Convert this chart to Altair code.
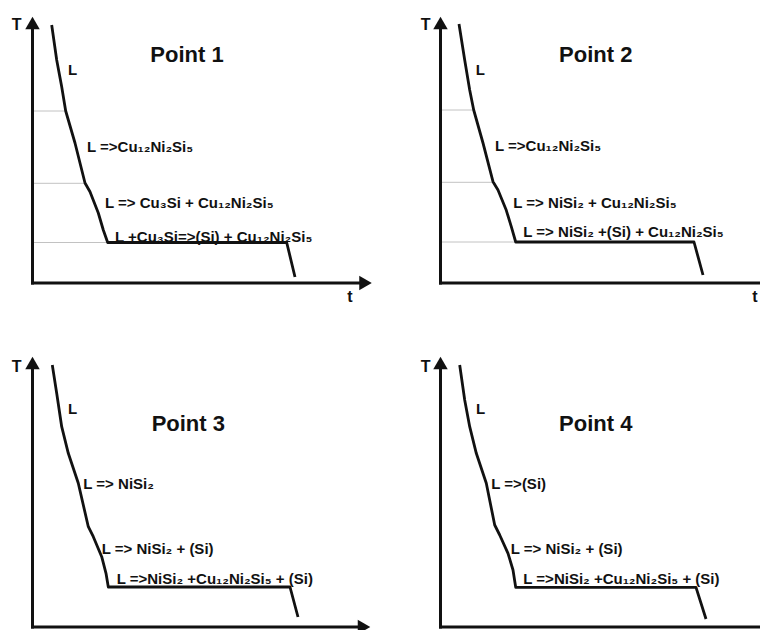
import altair as alt
import pandas as pd

FONT = "Liberation Sans, Arial, DejaVu Sans"
INK = "#111111"

# ---------------- data (schematic units: t = time, T = temperature) ----------------
titles = ["Point 1", "Point 2", "Point 3", "Point 4"]
title_t = [154.5, 155.2, 155.8, 155.2]
title_T = [228, 228, 203, 203]

# cooling curves
curve1_t = [19.2, 24.2, 29.2, 33.2, 42.5, 52.5, 57.5, 65.8, 70.8, 75.2, 254.2, 262.5]
curve1_T = [258, 223, 196.3, 172, 140, 100, 91.3, 70, 53, 40.5, 40.5, 6]
curve2_t = [18.5, 24.2, 29.2, 33.2, 42.5, 52.5, 57.5, 65.8, 70.8, 75.2, 253.5, 262.5]
curve2_T = [259, 223, 193, 173, 140, 101.3, 93, 72.7, 56.3, 41, 41, 8]
curve3_t = [19.8, 24.2, 29.2, 35.8, 45.8, 55.8, 60.8, 69.2, 73.5, 75.8, 257.5, 265.5]
curve3_T = [262, 233.7, 200.3, 173.7, 143.7, 100.3, 90.3, 70.3, 53.7, 40, 40, 10]
curve4_t = [19.2, 24.2, 29.2, 35.8, 45.8, 54.2, 59.2, 67.5, 72.5, 75.2, 255.5, 265.5]
curve4_T = [262, 227, 200.3, 173.7, 143.7, 102, 92, 73.7, 57, 39.7, 39.7, 8]

# thin guide lines at the transformation temperatures (panels 1 and 2)
guide1_t = [33.2, 52.5, 75.2]
guide1_T = [172, 99.7, 40.5]
guide2_t = [33.2, 52.5, 75.2]
guide2_T = [173, 100.7, 41]

# reaction labels
labels1 = ["L", "L =>Cu₁₂Ni₂Si₅", "L => Cu₃Si + Cu₁₂Ni₂Si₅", "L +Cu₃Si=>(Si) + Cu₁₂Ni₂Si₅"]
labels1_t = [35.5, 54.5, 72.5, 82.5]
labels1_T = [213, 136, 80, 46.5]
labels2 = ["L", "L =>Cu₁₂Ni₂Si₅", "L => NiSi₂ + Cu₁₂Ni₂Si₅", "L => NiSi₂ +(Si) + Cu₁₂Ni₂Si₅"]
labels2_t = [35.2, 54.5, 72.8, 82.8]
labels2_T = [213, 137, 80, 50.7]
labels3 = ["L", "L => NiSi₂", "L => NiSi₂ + (Si)", "L =>NiSi₂ +Cu₁₂Ni₂Si₅ + (Si)"]
labels3_t = [35.5, 50.8, 69.2, 84.2]
labels3_T = [218, 143.3, 78.3, 48.3]
labels4 = ["L", "L =>(Si)", "L => NiSi₂ + (Si)", "L =>NiSi₂ +Cu₁₂Ni₂Si₅ + (Si)"]
labels4_t = [35.5, 50.8, 70.2, 82.8]
labels4_T = [218, 143.3, 78.3, 48.3]

# axis extents (arrow positions) and axis letters
axis_t_end = [333, 336, 331.5, 336]
axis_T_end = [260, 260, 264, 264]
letterT_t = [-15.8, -14.8, -15.8, -14.8]
letterT_T = [258, 258, 260, 260]
lettert_t = [317.5, 314.5, 317.5, 314.5]
lettert_T = [-14, -14, -11, -11]


def panel(k, ct, cT, gt, gT, lab, lt, lT, width, height, xdom, ydom):
    xs = alt.Scale(domain=xdom, nice=False, zero=False)
    ys = alt.Scale(domain=ydom, nice=False, zero=False)

    def X(f):
        return alt.X(f, type="quantitative", scale=xs, axis=None)

    def Y(f):
        return alt.Y(f, type="quantitative", scale=ys, axis=None)

    layers = []
    if gt:
        gdf = pd.DataFrame({"z": [0] * len(gt), "t": gt, "T": gT})
        layers.append(
            alt.Chart(gdf).mark_rule(color="#c2c2c2", strokeWidth=1, clip=True)
            .encode(x=X("z"), x2="t", y=Y("T"))
        )
    adf = pd.DataFrame({"t": [0, 0], "t2": [axis_t_end[k], 0],
                        "T": [0, 0], "T2": [0, axis_T_end[k]]})
    layers.append(
        alt.Chart(adf).mark_rule(color=INK, strokeWidth=3, strokeCap="square", clip=True)
        .encode(x=X("t"), x2="t2", y=Y("T"), y2="T2")
    )
    hdf = pd.DataFrame({"t": [0, axis_t_end[k]], "T": [axis_T_end[k], 0],
                        "shape": ["triangle-up", "triangle-right"]})
    layers.append(
        alt.Chart(hdf).mark_point(filled=True, opacity=1, size=210, color=INK, clip=True)
        .encode(x=X("t"), y=Y("T"), shape=alt.Shape("shape:N", scale=None))
    )
    cdf = pd.DataFrame({"i": list(range(len(ct))), "t": ct, "T": cT})
    layers.append(
        alt.Chart(cdf).mark_line(color=INK, strokeWidth=2.8, clip=True, strokeJoin="round")
        .encode(x=X("t"), y=Y("T"), order="i:Q")
    )
    ldf = pd.DataFrame({"label": lab, "t": lt, "T": lT})
    layers.append(
        alt.Chart(ldf).mark_text(align="left", baseline="middle", font=FONT, fontWeight="bold",
                                 fontSize=15, color=INK, clip=True)
        .encode(x=X("t"), y=Y("T"), text="label:N")
    )
    tdf = pd.DataFrame({"label": [titles[k]], "t": [title_t[k]], "T": [title_T[k]]})
    layers.append(
        alt.Chart(tdf).mark_text(align="center", baseline="middle", font=FONT, fontWeight="bold",
                                 fontSize=22, color=INK, clip=True)
        .encode(x=X("t"), y=Y("T"), text="label:N")
    )
    xdf = pd.DataFrame({"label": ["T", "t"], "t": [letterT_t[k], lettert_t[k]],
                        "T": [letterT_T[k], lettert_T[k]]})
    layers.append(
        alt.Chart(xdf).mark_text(align="center", baseline="middle", font=FONT, fontWeight="bold",
                                 fontSize=16, color=INK, clip=True)
        .encode(x=X("t"), y=Y("T"), text="label:N")
    )
    return alt.layer(*layers).properties(width=width, height=height)


W1, W2 = 408, 344
H1, H2 = 344, 278
xdom1 = [-24.5, W1 - 24.5]
xdom2 = [-24.5, W2 - 24.5]
ydom1 = [275 - H1, 275]
ydom2 = [275 - H2, 275]

p1 = panel(0, curve1_t, curve1_T, guide1_t, guide1_T, labels1, labels1_t, labels1_T, W1, H1, xdom1, ydom1)
p2 = panel(1, curve2_t, curve2_T, guide2_t, guide2_T, labels2, labels2_t, labels2_T, W2, H1, xdom2, ydom1)
p3 = panel(2, curve3_t, curve3_T, [], [], labels3, labels3_t, labels3_T, W1, H2, xdom1, ydom2)
p4 = panel(3, curve4_t, curve4_T, [], [], labels4, labels4_t, labels4_T, W2, H2, xdom2, ydom2)

chart = (
    alt.concat(p1, p2, p3, p4, columns=2, spacing=0, bounds="flush")
    .properties(padding=0, background="white")
    .configure_view(stroke=None)
)

chart.save("out.html", embed_options={"renderer": "svg", "actions": False})
